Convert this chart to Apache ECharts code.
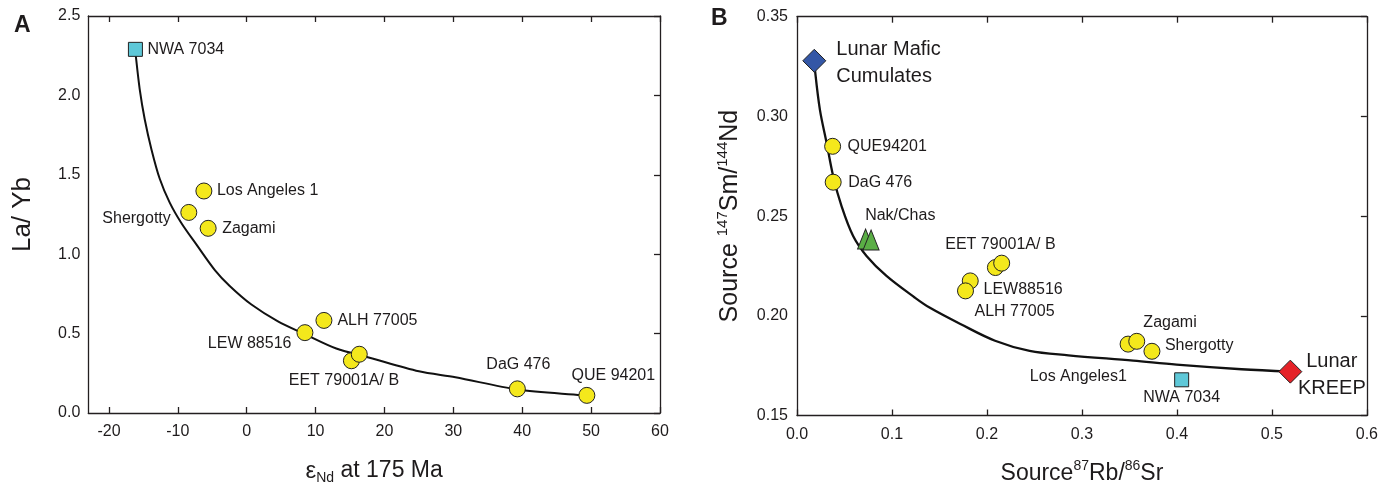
<!DOCTYPE html>
<html><head><meta charset="utf-8">
<script src="https://cdn.jsdelivr.net/npm/echarts@6/dist/echarts.min.js"></script>
<style>html,body{margin:0;padding:0;background:#fff}#c{width:1381px;height:490px}</style>
</head><body><div id="c"></div>
<script>
// ---------- Panel A data ----------
const aSquareNames = ['NWA 7034'];
const aSquareX = [-16.16];
const aSquareY = [2.29];
const aCircleNames = ['Los Angeles 1', 'Shergotty', 'Zagami', 'ALH 77005', 'LEW 88516', 'EET 79001A/ B', '', 'DaG 476', 'QUE 94201'];
const aCircleX = [-6.22, -8.41, -5.6, 11.21, 8.45, 15.2, 16.34, 39.29, 49.38];
const aCircleY = [1.398, 1.263, 1.163, 0.583, 0.506, 0.329, 0.37, 0.152, 0.111];
const aCurveX = [-16.2, -16.12, -15.54, -14.81, -13.83, -12.63, -11.18, -9.47, -7.29, -4.63, -2.47, 0.68, 4.47, 8.45, 13.0, 17.7, 25.0, 30.3, 39.3, 48.6, 49.4];
const aCurveY = [2.3, 2.256, 2.04, 1.85, 1.66, 1.475, 1.325, 1.195, 1.06, 0.9, 0.8, 0.683, 0.579, 0.496, 0.406, 0.35, 0.2625, 0.225, 0.148, 0.1125, 0.11];
const aXTicks = [-20, -10, 0, 10, 20, 30, 40, 50, 60];
const aYTicks = [0, 0.5, 1.0, 1.5, 2.0, 2.5];

// ---------- Panel B data ----------
const bMaficNames = ['Lunar Mafic\nCumulates'];
const bMaficX = [0.0182];
const bMaficY = [0.3279];
const bKreepNames = ['Lunar\nKREEP'];
const bKreepX = [0.5194];
const bKreepY = [0.172];
const bCircleNames = ['QUE94201', 'DaG 476', 'EET 79001A/ B', '', 'LEW88516', 'ALH 77005', 'Los Angeles1', 'Zagami', 'Shergotty'];
const bCircleX = [0.0375, 0.0381, 0.2089, 0.2155, 0.1824, 0.1774, 0.3486, 0.3577, 0.3737];
const bCircleY = [0.285, 0.267, 0.2242, 0.2264, 0.2175, 0.2125, 0.1858, 0.1872, 0.1822];
const bTriNames = ['Nak/Chas', ''];
const bTriX = [0.0722, 0.078];
const bTriY = [0.2385, 0.238];
const bSquareNames = ['NWA 7034'];
const bSquareX = [0.405];
const bSquareY = [0.1679];
const bCurveX = [0.0185, 0.0189, 0.0241, 0.0312, 0.0381, 0.0469, 0.0591, 0.0732, 0.0942, 0.1239, 0.14, 0.172, 0.2085, 0.2449, 0.2858, 0.354, 0.3996, 0.468, 0.519];
const bCurveY = [0.328, 0.3234, 0.3034, 0.2867, 0.27, 0.255, 0.24, 0.23, 0.22, 0.2092, 0.204, 0.1959, 0.1875, 0.1824, 0.1802, 0.1775, 0.1755, 0.1732, 0.172];
const bXTicks = [0, 0.1, 0.2, 0.3, 0.4, 0.5, 0.6];
const bYTicks = [0.15, 0.20, 0.25, 0.30, 0.35];

// ---------- label placement (style, kept apart from data) ----------
const labelPlace = {
  A: {
    'NWA 7034': ['left', 12, 0],
    'Los Angeles 1': ['left', 13, 0],
    'Shergotty': ['right', -18, 6],
    'Zagami': ['left', 14, 0],
    'ALH 77005': ['left', 13.5, 0],
    'LEW 88516': ['right', -13.5, 11],
    'EET 79001A/ B': ['center', -7.5, 20],
    'DaG 476': ['center', 1, -24],
    'QUE 94201': ['center', 26.5, -20]
  },
  B: {
    'Lunar Mafic\nCumulates': ['left', 22, 2],
    'Lunar\nKREEP': ['center', 41.5, 3.5],
    'QUE94201': ['left', 15, 0],
    'DaG 476': ['left', 15, 0],
    'EET 79001A/ B': ['center', 5, -23.3],
    'LEW88516': ['left', 13.3, 9],
    'ALH 77005': ['left', 9, 21],
    'Los Angeles1': ['right', -1.3, 32.7],
    'Zagami': ['center', 33.3, -19],
    'Shergotty': ['left', 13, -5.6],
    'Nak/Chas': ['center', 34.7, -23],
    'NWA 7034': ['center', 0, 18]
  }
};

const FONT = 'Liberation Sans, Arial, Helvetica, sans-serif';
const TXT = '#1e1b1c';
const AX = '#231f20';

function items(panel, names, xs, ys, fontSize) {
  return xs.map((x, i) => {
    const n = names[i];
    const p = labelPlace[panel][n];
    return {
      value: [x, ys[i]],
      name: n,
      label: p ? {
        show: true, position: 'inside', align: p[0], verticalAlign: 'middle',
        offset: [p[1], p[2]], formatter: n, color: TXT,
        fontSize: fontSize || 16, fontFamily: FONT, lineHeight: fontSize ? 27 : 18
      } : { show: false }
    };
  });
}
function pts(xs, ys) { return xs.map((x, i) => [x, ys[i]]); }

const frame = { color: AX, width: 1.3 };
function axisBase(extra) {
  return Object.assign({
    type: 'value', splitLine: { show: false },
    axisLine: { show: true, onZero: false, lineStyle: frame }
  }, extra);
}
const tickStyle = { color: AX, width: 1.3 };
const mark = (color) => ({ color: color, borderColor: '#222', borderWidth: 1, opacity: 1 });

const option = {
  animation: false,
  backgroundColor: '#fff',
  textStyle: { fontFamily: FONT },
  grid: [
    { left: 88.3, top: 16, width: 571.7, height: 400 },
    { left: 797, top: 16.7, width: 571.5, height: 400 }
  ],
  graphic: [
    { type: 'text', left: 14, top: 14, style: { text: 'A', font: 'bold 23px ' + FONT, fill: TXT } },
    { type: 'text', left: 711, top: 7, style: { text: 'B', font: 'bold 23px ' + FONT, fill: TXT } }
  ],
  xAxis: [
    axisBase({ gridIndex: 0, position: 'bottom', min: -23, max: 60,
      axisTick: { show: true, inside: true, length: 6, customValues: aXTicks, lineStyle: tickStyle },
      axisLabel: { customValues: aXTicks, fontSize: 16, color: TXT, margin: 11, fontFamily: FONT },
      name: '{e|ε}{s|Nd}{t| at 175 Ma}', nameLocation: 'middle', nameGap: 44,
      nameTextStyle: { color: TXT, rich: {
        e: { fontSize: 24, fontFamily: FONT, color: TXT, lineHeight: 28 },
        s: { fontSize: 14, fontFamily: FONT, color: TXT, verticalAlign: 'bottom', lineHeight: 14 },
        t: { fontSize: 23, fontFamily: FONT, color: TXT, lineHeight: 28 } } } }),
    axisBase({ gridIndex: 0, position: 'top', min: -23, max: 60,
      axisTick: { show: true, inside: true, length: 6, customValues: aXTicks, lineStyle: tickStyle },
      axisLabel: { show: false } }),
    axisBase({ gridIndex: 1, position: 'bottom', min: 0, max: 0.6,
      axisTick: { show: true, inside: true, length: 6, customValues: bXTicks, lineStyle: tickStyle },
      axisLabel: { customValues: bXTicks, fontSize: 16, color: TXT, margin: 11, fontFamily: FONT, formatter: v => v.toFixed(1) },
      name: '{t|Source}{u|87}{t|Rb/}{u|86}{t|Sr}', nameLocation: 'middle', nameGap: 44,
      nameTextStyle: { color: TXT, rich: {
        t: { fontSize: 23, fontFamily: FONT, color: TXT, lineHeight: 28 },
        u: { fontSize: 14, fontFamily: FONT, color: TXT, verticalAlign: 'top', lineHeight: 14 } } } }),
    axisBase({ gridIndex: 1, position: 'top', min: 0, max: 0.6,
      axisTick: { show: true, inside: true, length: 6, customValues: bXTicks, lineStyle: tickStyle },
      axisLabel: { show: false } })
  ],
  yAxis: [
    axisBase({ gridIndex: 0, position: 'left', min: 0, max: 2.5,
      axisTick: { show: false },
      axisLabel: { customValues: aYTicks, fontSize: 16, color: TXT, margin: 8, fontFamily: FONT, formatter: v => v.toFixed(1) },
      name: 'La/ Yb', nameLocation: 'middle', nameGap: 52,
      nameTextStyle: { color: TXT, fontSize: 26, fontFamily: FONT } }),
    axisBase({ gridIndex: 0, position: 'right', min: 0, max: 2.5,
      axisTick: { show: true, inside: true, length: 6, customValues: aYTicks, lineStyle: tickStyle },
      axisLabel: { show: false } }),
    axisBase({ gridIndex: 1, position: 'left', min: 0.15, max: 0.35,
      axisTick: { show: false },
      axisLabel: { customValues: bYTicks, fontSize: 16, color: TXT, margin: 9, fontFamily: FONT, formatter: v => v.toFixed(2) },
      name: '{t|Source }{u|147}{t|Sm/}{u|144}{t|Nd}', nameLocation: 'middle', nameGap: 52,
      nameTextStyle: { color: TXT, rich: {
        t: { fontSize: 25, fontFamily: FONT, color: TXT, lineHeight: 30 },
        u: { fontSize: 15, fontFamily: FONT, color: TXT, verticalAlign: 'top', lineHeight: 15 } } } }),
    axisBase({ gridIndex: 1, position: 'right', min: 0.15, max: 0.35,
      axisTick: { show: true, inside: true, length: 6, customValues: bYTicks, lineStyle: tickStyle },
      axisLabel: { show: false } })
  ],
  series: [
    { type: 'line', xAxisIndex: 0, yAxisIndex: 0, data: pts(aCurveX, aCurveY), smooth: 0.3,
      showSymbol: false, symbol: 'none', lineStyle: { color: '#111', width: 2 }, z: 1 },
    { type: 'scatter', xAxisIndex: 0, yAxisIndex: 0, symbol: 'rect', symbolSize: 14,
      itemStyle: mark('#5ec8d8'), data: items('A', aSquareNames, aSquareX, aSquareY), z: 3 },
    { type: 'scatter', xAxisIndex: 0, yAxisIndex: 0, symbol: 'circle', symbolSize: 16,
      itemStyle: mark('#f4e81c'), data: items('A', aCircleNames, aCircleX, aCircleY), z: 3 },

    { type: 'line', xAxisIndex: 2, yAxisIndex: 2, data: pts(bCurveX, bCurveY), smooth: 0.35,
      showSymbol: false, symbol: 'none', lineStyle: { color: '#111', width: 2.3 }, z: 1 },
    { type: 'scatter', xAxisIndex: 2, yAxisIndex: 2, symbol: 'diamond', symbolSize: 23,
      itemStyle: mark('#3457a6'), data: items('B', bMaficNames, bMaficX, bMaficY, 20), z: 3 },
    { type: 'scatter', xAxisIndex: 2, yAxisIndex: 2, symbol: 'diamond', symbolSize: 23,
      itemStyle: mark('#e52228'), data: items('B', bKreepNames, bKreepX, bKreepY, 20), z: 3 },
    { type: 'scatter', xAxisIndex: 2, yAxisIndex: 2, symbol: 'triangle', symbolSize: [16, 20],
      itemStyle: mark('#5aae45'), data: items('B', bTriNames, bTriX, bTriY), z: 3 },
    { type: 'scatter', xAxisIndex: 2, yAxisIndex: 2, symbol: 'circle', symbolSize: 16,
      itemStyle: mark('#f4e81c'), data: items('B', bCircleNames, bCircleX, bCircleY), z: 3 },
    { type: 'scatter', xAxisIndex: 2, yAxisIndex: 2, symbol: 'rect', symbolSize: 14,
      itemStyle: mark('#5ec8d8'), data: items('B', bSquareNames, bSquareX, bSquareY), z: 3 }
  ]
};
const chart = echarts.init(document.getElementById('c'), null, { renderer: 'canvas' });
chart.setOption(option);
</script>
</body></html>
